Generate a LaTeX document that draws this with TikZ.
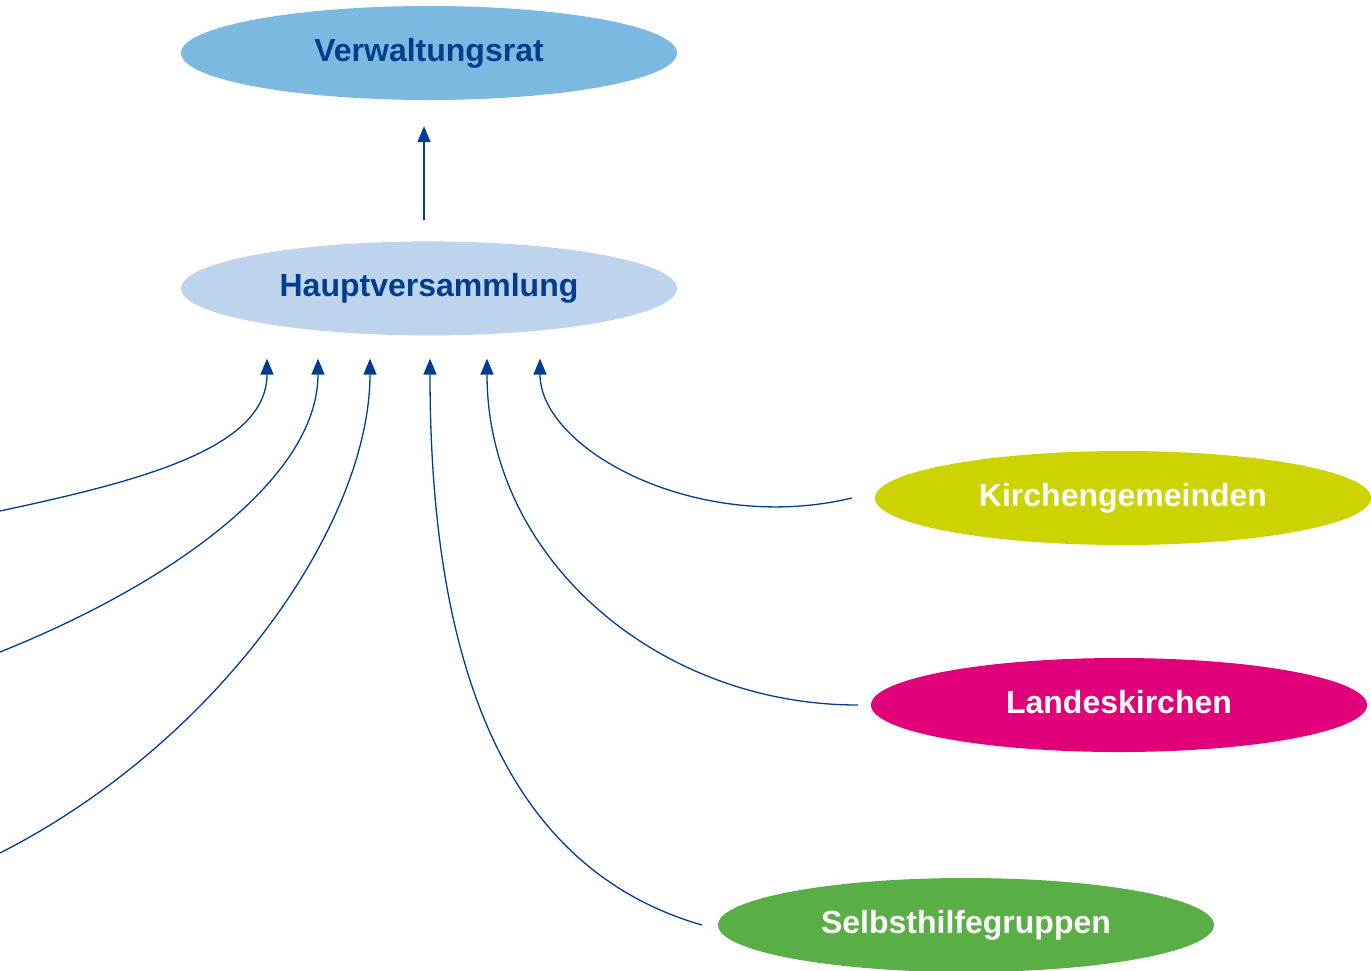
\documentclass[tikz,border=0pt]{standalone}
\usepackage{fontspec}
\setmainfont{Liberation Sans}
\usetikzlibrary{shapes.geometric, arrows.meta, positioning}

\definecolor{textblue}{RGB}{0,61,140}
\definecolor{vrblue}{RGB}{124,185,225}
\definecolor{hvblue}{RGB}{190,212,236}
\definecolor{kgyellow}{RGB}{204,211,0}
\definecolor{lkmagenta}{RGB}{226,0,122}
\definecolor{sggreen}{RGB}{90,174,70}

\tikzset{
  organ/.style={ellipse, minimum width=496pt, minimum height=94pt, inner sep=0pt,
    text height=23pt, text depth=6.5pt, font=\bfseries\fontsize{32}{36}\selectfont},
  link/.style={draw=textblue, line width=1.3pt, -{Triangle[length=16pt,width=13pt]}}
}

\begin{document}
\begin{tikzpicture}[x=1pt, y=-1pt]
  \clip (0,0) rectangle (1371,970);
  % Leitung
  \node[organ, fill=vrblue, text=textblue] (vr) at (429,53) {Verwaltungsrat};
  \node[organ, fill=hvblue, text=textblue, below=141pt of vr] (hv) {Hauptversammlung};
  % Mitglieder
  \node[organ, fill=kgyellow, text=white] (kg) at (1123,498) {Kirchengemeinden};
  \node[organ, fill=lkmagenta, text=white] (lk) at (1119,705) {Landeskirchen};
  \node[organ, fill=sggreen, text=white] (sg) at (966,925) {Selbsthilfegruppen};
  % Pfeilspitzen unter der Hauptversammlung
  \coordinate (t1) at ([xshift=-162pt,yshift=-23pt]hv.south);
  \coordinate (t2) at ([xshift=-111pt,yshift=-23pt]hv.south);
  \coordinate (t3) at ([xshift=-59pt,yshift=-23pt]hv.south);
  \coordinate (t4) at ([xshift=1pt,yshift=-23pt]hv.south);
  \coordinate (t5) at ([xshift=58pt,yshift=-23pt]hv.south);
  \coordinate (t6) at ([xshift=111pt,yshift=-23pt]hv.south);
  % Enden am linken Rand
  \coordinate (w1) at (0,511);
  \coordinate (w2) at (0,652);
  \coordinate (w3) at (0,853);
  % Pfeile
  \draw[link] ([xshift=-5pt,yshift=21pt]hv.north) -- ([xshift=-5pt,yshift=-26pt]vr.south);
  \draw[link] (w1) .. controls +(140,-30) and +(0,90) .. (t1);
  \draw[link] (w2) .. controls +(170,-68) and +(0,120) .. (t2);
  \draw[link] (w3) .. controls +(220,-112) and +(0,165) .. (t3);
  \draw[link] ([xshift=-16pt]sg.west) .. controls +(-200,-58) and +(0,300) .. (t4);
  \draw[link] ([xshift=-13pt]lk.west) .. controls +(-200,0) and +(0,200) .. (t5);
  \draw[link] ([xshift=-23pt]kg.west) .. controls +(-154,37) and +(0,91) .. (t6);
\end{tikzpicture}
\end{document}
